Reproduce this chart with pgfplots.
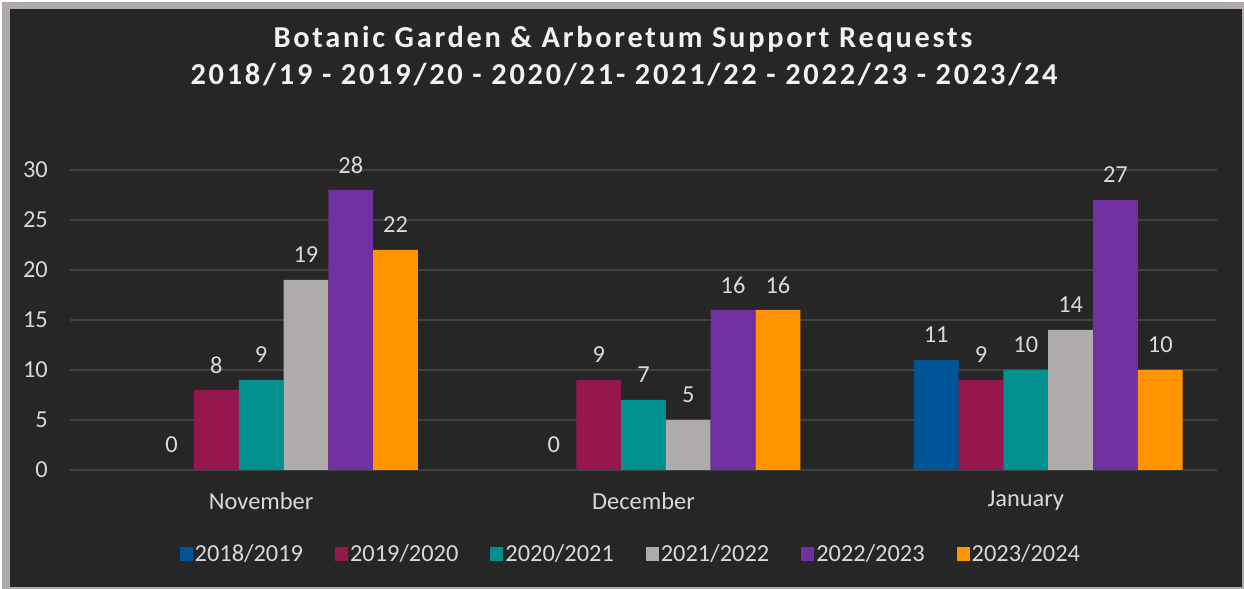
\documentclass[border=0pt]{standalone}
\usepackage{pgfplots}
\pgfplotsset{compat=1.18}
\usepackage{fontspec}
\setmainfont{Carlito}
\newfontfamily\titlefont[LetterSpace=9]{Carlito}
\definecolor{bg}{HTML}{262626}
\definecolor{framegray}{HTML}{AFABAB}
\definecolor{gridc}{HTML}{404040}
\definecolor{lbl}{HTML}{D9D9D9}
\definecolor{ttl}{HTML}{F2F2F2}
\definecolor{c1}{HTML}{005597}
\definecolor{c2}{HTML}{95174E}
\definecolor{c3}{HTML}{00918F}
\definecolor{c4}{HTML}{AFABAB}
\definecolor{c5}{HTML}{7030A0}
\definecolor{c6}{HTML}{FF9300}
\pgfplotsset{sqlegend/.style={legend image code/.code={\fill[##1,draw=none] (0bp,-6.5bp) rectangle (13bp,6.5bp);}}}
\begin{document}
\begin{tikzpicture}
\fill[white] (0,0) rectangle (1244bp,589bp);
\fill[framegray] (2bp,0) rectangle (1244bp,587bp);
\fill[bg] (10bp,2bp) rectangle (1242bp,580bp);
\node[anchor=base, text=ttl, font=\titlefont\bfseries\fontsize{30.5}{34}\selectfont] at (623bp,541bp) {Botanic Garden \& Arboretum Support Requests};
\node[anchor=base, text=ttl, font=\titlefont\bfseries\fontsize{30.5}{34}\selectfont] at (624bp,504bp) {2018/19 - 2019/20 - 2020/21- 2021/22 - 2022/23 - 2023/24};
\begin{axis}[
  at={(70bp,119bp)}, anchor=south west,
  scale only axis, width=1147bp, height=300bp,
  xmin=-0.5, xmax=2.5, ymin=0, ymax=30,
  ytick={0,5,...,30}, xtick={0,1,2},
  xticklabels={November,December,January},
  axis line style={draw=none}, tick style={draw=none},
  major tick length=0pt,
  ymajorgrids, grid style={color=gridc, line width=1.2bp},
  /pgf/number format/assume math mode=true,
  tick label style={font=\fontsize{24.5}{28}\selectfont, text=lbl},
  yticklabel style={anchor=east, inner sep=0pt, xshift=-22bp},
  xticklabel style={anchor=center, inner sep=0pt, yshift=-31bp},
  ybar, bar width=0.1172,
  nodes near coords,
  nodes near coords style={font=\fontsize{24.5}{28}\selectfont, text=lbl, anchor=center, inner sep=0pt, yshift=25bp},
  clip=false,
  legend style={draw=none, fill=none, at={(0.489,-0.28)}, anchor=center,
    legend columns=6, font=\fontsize{24.5}{28}\selectfont, text=lbl,
    nodes={inner sep=2bp},
    /tikz/every even column/.append style={column sep=30bp}},
]
\addplot[fill=c1, draw=none, bar shift=-0.2344, sqlegend] coordinates {(0,0) (1,0) (2,11)};
\addplot[fill=c2, draw=none, bar shift=-0.1172, sqlegend] coordinates {(0,8) (1,9) (2,9)};
\addplot[fill=c3, draw=none, bar shift=0, sqlegend] coordinates {(0,9) (1,7) (2,10)};
\addplot[fill=c4, draw=none, bar shift=0.1172, sqlegend] coordinates {(0,19) (1,5) (2,14)};
\addplot[fill=c5, draw=none, bar shift=0.2344, sqlegend] coordinates {(0,28) (1,16) (2,27)};
\addplot[fill=c6, draw=none, bar shift=0.3516, sqlegend] coordinates {(0,22) (1,16) (2,10)};
\legend{2018/2019,2019/2020,2020/2021,2021/2022,2022/2023,2023/2024}
\end{axis}
\end{tikzpicture}
\end{document}
